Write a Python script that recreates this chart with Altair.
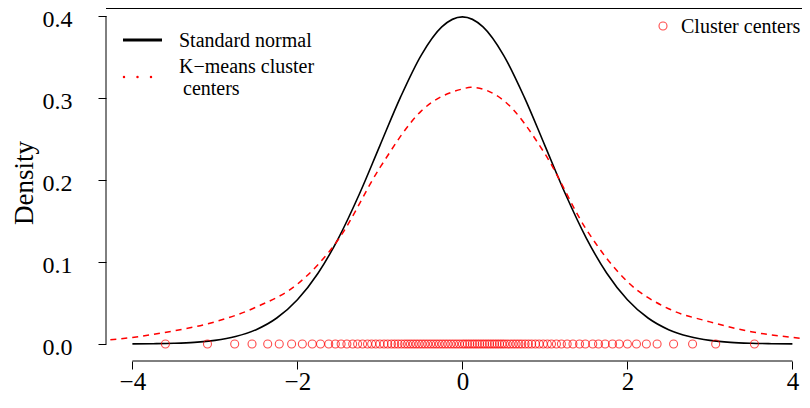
import altair as alt
import pandas as pd

FONT = "Liberation Serif"

# Standard normal curve
norm_x = [-4.0, -3.75, -3.5, -3.25, -3.0, -2.75, -2.5, -2.25, -2.0, -1.75, -1.5, -1.25,
          -1.0, -0.75, -0.5, -0.25, 0.0, 0.25, 0.5, 0.75, 1.0, 1.25, 1.5, 1.75,
          2.0, 2.25, 2.5, 2.75, 3.0, 3.25, 3.5, 3.75, 4.0]
norm_y = [0.0001, 0.0004, 0.0009, 0.0020, 0.0044, 0.0091, 0.0175, 0.0317, 0.0540, 0.0863, 0.1295, 0.1826,
          0.2420, 0.3011, 0.3521, 0.3867, 0.3989, 0.3867, 0.3521, 0.3011, 0.2420, 0.1826, 0.1295, 0.0863,
          0.0540, 0.0317, 0.0175, 0.0091, 0.0044, 0.0020, 0.0009, 0.0004, 0.0001]

# Density of the K-means cluster centers (red dashed)
dens_x = [-4.4, -4.0, -3.5, -3.0, -2.5, -2.0, -1.5, -1.0, -0.5, 0.0, 0.1, 0.5,
          1.0, 1.5, 2.0, 2.5, 3.0, 3.5, 4.0, 4.4]
dens_y = [0.004, 0.008, 0.016, 0.027, 0.045, 0.073, 0.128, 0.215, 0.284, 0.311, 0.313, 0.297,
          0.232, 0.140, 0.076, 0.043, 0.027, 0.015, 0.008, 0.004]

# Cluster centers (open circles at y = 0)
centers = [-3.60, -3.09, -2.76, -2.55, -2.36, -2.22, -2.07, -1.94, -1.82, -1.72, -1.62, -1.54,
           -1.47, -1.40, -1.33, -1.27, -1.21, -1.15, -1.10, -1.05, -1.00, -0.95,
           -0.905, -0.86, -0.82, -0.78, -0.74, -0.70, -0.665, -0.63, -0.595, -0.56,
           -0.525, -0.49, -0.455, -0.42, -0.385, -0.35, -0.315, -0.28, -0.245, -0.21,
           -0.175, -0.14, -0.105, -0.07, -0.035,
           0.0, 0.03, 0.06, 0.09, 0.12, 0.15, 0.18, 0.21, 0.24, 0.27, 0.30, 0.33, 0.36,
           0.39, 0.42, 0.45, 0.48, 0.51, 0.545, 0.58, 0.615, 0.65, 0.685,
           0.72, 0.76, 0.80, 0.84, 0.885, 0.93, 0.98, 1.03, 1.08, 1.14,
           1.20, 1.27, 1.34, 1.42, 1.49, 1.58, 1.65, 1.73, 1.82, 1.90, 2.00,
           2.11, 2.23, 2.36, 2.56, 2.79, 3.07, 3.54]

x_ticks = [-4, -2, 0, 2, 4]
y_ticks = [0.0, 0.1, 0.2, 0.3, 0.4]

W, H = 696, 349
XDOM = [-4.32, 4.1164]
YDOM = [-0.01585, 0.40976]

X = alt.X("x:Q", scale=alt.Scale(domain=XDOM, nice=False, zero=False),
          axis=alt.Axis(values=x_ticks, format="d", title=None, domain=False, grid=False,
                        tickSize=8, tickColor="black", tickWidth=1, offset=4,
                        labelFont=FONT, labelFontSize=25, labelColor="black", labelPadding=0,
                        labelFlush=False))
Y = alt.Y("y:Q", scale=alt.Scale(domain=YDOM, nice=False, zero=False),
          axis=alt.Axis(values=y_ticks, format=".1f", title="Density", domain=False, grid=False,
                        tickSize=8, tickColor="black", tickWidth=1,
                        labelFont=FONT, labelFontSize=24, labelColor="black", labelPadding=26,
                        labelOffset=3,
                        titleFont=FONT, titleFontSize=27, titleFontWeight="normal",
                        titleColor="black", titlePadding=4, labelFlush=False))

norm_df = pd.DataFrame({"x": norm_x, "y": norm_y})
dens_df = pd.DataFrame({"x": dens_x, "y": dens_y})
cent_df = pd.DataFrame({"x": centers, "y": [0.0] * len(centers)})

norm_line = alt.Chart(norm_df).mark_line(color="black", strokeWidth=1.6, interpolate="monotone",
                                         clip=True).encode(x=X, y=Y)
dens_line = alt.Chart(dens_df).mark_line(color="#ff0000", strokeWidth=1.5, strokeDash=[6, 5],
                                         interpolate="monotone", clip=True).encode(x=X, y=Y)
points = alt.Chart(cent_df).mark_point(shape="circle", filled=False, color="#ff0000",
                                       size=64, strokeWidth=1.1).encode(x=X, y=Y)

# axis lines spanning only first to last tick (R style)
xaxis_df = pd.DataFrame({"x": [x_ticks[0]], "x2": [x_ticks[-1]]})
xaxis_line = alt.Chart(xaxis_df).mark_rule(color="black", strokeWidth=1).encode(
    x=X, x2="x2:Q", y=alt.value(H + 4))
yaxis_df = pd.DataFrame({"y": [y_ticks[0]], "y2": [y_ticks[-1]]})
yaxis_line = alt.Chart(yaxis_df).mark_rule(color="black", strokeWidth=1).encode(
    y=Y, y2="y2:Q", x=alt.value(0))

top_line = alt.Chart(pd.DataFrame({"a": [0]})).mark_rule(color="black", strokeWidth=1.2).encode(
    x=alt.value(0), x2=alt.value(W), y=alt.value(0.5))

# legends (drawn manually)
leg_df = pd.DataFrame({"a": [0]})
leg_black = alt.Chart(leg_df).mark_rule(color="black", strokeWidth=3).encode(
    x=alt.value(17), x2=alt.value(56), y=alt.value(32))
dot_df = pd.DataFrame({"px": [18, 31.5, 45]})
leg_red = alt.Chart(dot_df).mark_point(shape="circle", filled=True, color="#ff0000", size=6,
                                       opacity=1).encode(x=alt.X("px:Q", scale=None), y=alt.value(69))
t1 = alt.Chart(pd.DataFrame({"t": ["Standard normal"]})).mark_text(
    font=FONT, fontSize=20, align="left", baseline="alphabetic", color="black").encode(
    x=alt.value(73), y=alt.value(39), text="t:N")
t2 = alt.Chart(pd.DataFrame({"t": ["K\u2212means cluster"]})).mark_text(
    font=FONT, fontSize=20, align="left", baseline="alphabetic", color="black").encode(
    x=alt.value(73), y=alt.value(65), text="t:N")
t3 = alt.Chart(pd.DataFrame({"t": ["centers"]})).mark_text(
    font=FONT, fontSize=20, align="left", baseline="alphabetic", color="black").encode(
    x=alt.value(77), y=alt.value(87), text="t:N")
leg_circ = alt.Chart(leg_df).mark_point(shape="circle", filled=False, color="#ff0000", size=64,
                                        strokeWidth=1.1).encode(x=alt.value(557), y=alt.value(18))
t4 = alt.Chart(pd.DataFrame({"t": ["Cluster centers"]})).mark_text(
    font=FONT, fontSize=20, align="left", baseline="alphabetic", color="black").encode(
    x=alt.value(575), y=alt.value(25), text="t:N")

chart = alt.layer(
    norm_line, dens_line, points, xaxis_line, yaxis_line, top_line,
    leg_black, leg_red, t1, t2, t3, leg_circ, t4
).properties(
    width=W, height=H,
    autosize=alt.AutoSizeParams(type="none"),
    padding={"left": 98, "top": 0, "right": 0, "bottom": 39},
    background="white",
).configure_view(stroke=None)

chart.save("out.html", embed_options={"renderer": "svg", "actions": False})
